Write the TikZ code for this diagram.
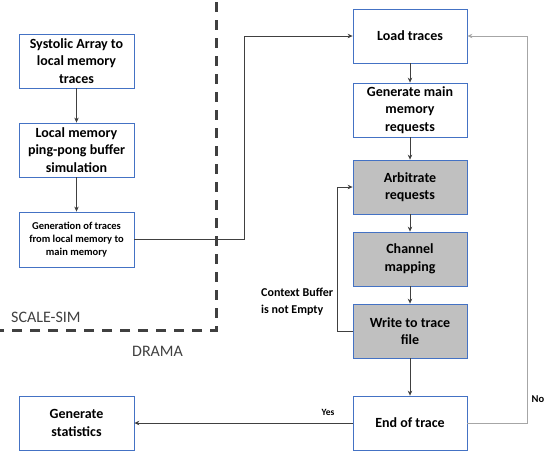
\documentclass[tikz,border=0pt]{standalone}
\usepackage{fontspec}
\setmainfont{Carlito}
\usetikzlibrary{arrows.meta}
\definecolor{boxblue}{HTML}{4472C4}
\definecolor{linegray}{HTML}{404040}
\definecolor{fillgray}{HTML}{C0C0C0}
\definecolor{nogray}{HTML}{A6A6A6}
\tikzset{
  flowbox/.style={draw=boxblue, line width=0.8pt, fill=white, rectangle, align=center,
    inner sep=2pt, font=\fontsize{14}{17.5}\selectfont\bfseries},
  graybox/.style={flowbox, fill=fillgray},
  conn/.style={draw=linegray, line width=0.7pt, -{Stealth[length=5pt,width=4.5pt]}},
  lbl/.style={font=\fontsize{12}{17}\selectfont\bfseries, align=left, inner sep=0pt},
  region/.style={font=\fontsize{16}{19}\selectfont, text=linegray, inner sep=0pt},
  divider/.style={draw=linegray, line width=3pt, dash pattern=on 10pt off 8pt}
}
\begin{document}
\begin{tikzpicture}[x=1pt,y=-1pt]
\useasboundingbox (0,0) rectangle (550,456);
% left column
\node[flowbox, minimum width=115pt, minimum height=54pt] (sa) at (76.5,61) {Systolic Array to\\local memory\\traces};
\node[flowbox, minimum width=115pt, minimum height=54pt] (pp) at (76.5,150) {Local memory\\ping-pong buffer\\simulation};
\node[flowbox, minimum width=115pt, minimum height=55pt, font=\fontsize{10.5}{13}\selectfont\bfseries] (gt) at (76.5,239.5) {Generation of traces\\from local memory to\\main memory};
\node[flowbox, minimum width=115pt, minimum height=54pt] (gs) at (76.5,423) {Generate\\statistics};
% right column
\node[flowbox, minimum width=114pt, minimum height=54pt] (lt) at (410,36) {Load traces};
\node[flowbox, minimum width=114pt, minimum height=54pt] (gm) at (410,110) {Generate main\\memory\\requests};
\node[graybox, minimum width=114pt, minimum height=54pt] (ar) at (410,187) {Arbitrate\\requests};
\node[graybox, minimum width=114pt, minimum height=54pt] (cm) at (410,259) {Channel\\mapping};
\node[graybox, minimum width=114pt, minimum height=54pt] (wt) at (410,331) {Write to trace\\file};
\node[flowbox, minimum width=114pt, minimum height=54pt] (et) at (410,423) {End of trace};
% divider
\draw[divider] (216,2) -- (216,330) -- (0,330);
\node[region, anchor=west] (scale) at (11,317) {SCALE-SIM};
\node[region, anchor=west] (drama) at (132,351) {DRAMA};
% coordinates
\coordinate (c1) at (244,239.5);
\coordinate (c2) at (337,331);
\coordinate (c3) at (527,423);
% connectors
\draw[conn] (sa) -- (pp);
\draw[conn] (pp) -- (gt);
\draw[conn] (gt.east) -- (c1) |- (lt.west);
\draw[conn] (lt) -- (gm);
\draw[conn] (gm) -- (ar);
\draw[conn] (ar) -- (cm);
\draw[conn] (cm) -- (wt);
\draw[conn] (wt) -- (et);
\draw[conn] (wt.west) -- (c2) |- (ar.west);
\draw[conn] (et.west) -- (gs.east);
\draw[conn, draw=nogray, line width=1pt] (et.east) -- (c3) |- (lt.east);
% labels
\node[lbl, anchor=north west] (ctx) at (261,288) {Context Buffer\\is not Empty};
\node[font=\fontsize{9.5}{11}\selectfont\bfseries, inner sep=0pt] (yes) at (328,412) {Yes};
\node[font=\fontsize{10.5}{12}\selectfont\bfseries, inner sep=0pt] (no) at (538,399) {No};
\end{tikzpicture}
\end{document}
